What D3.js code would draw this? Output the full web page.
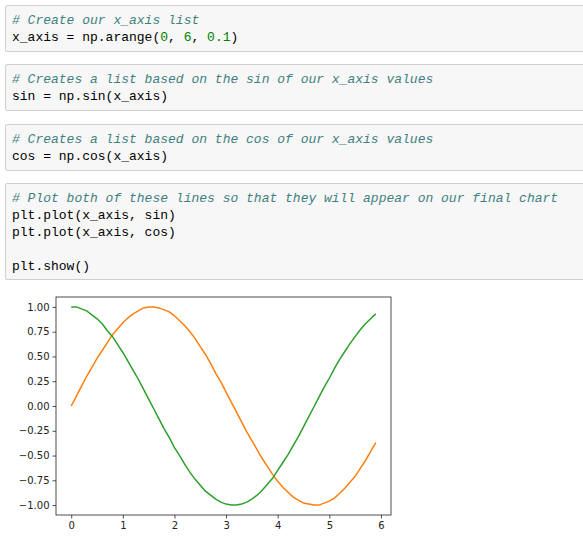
<!DOCTYPE html>
<html lang="en">
<head>
<meta charset="UTF-8">
<title>sin and cos</title>
<style>
  body { margin: 0; background: #fff; width: 583px; height: 539px; overflow: hidden; position: relative; }
  .cell {
    position: absolute; left: 5px; width: 600px;
    background: #f7f7f7; border: 1px solid #cfcfcf; border-radius: 2px;
    font-family: "Liberation Mono", "DejaVu Sans Mono", monospace; font-size: 13px;
    line-height: 17px; padding: 6px 0 5px 6px; box-sizing: border-box; white-space: pre; color: #000;
  }
  .c { color: #408080; font-style: italic; }
  .n { color: #008000; }
  svg { position: absolute; left: 0; top: 0; }
</style>
</head>
<body>
<div class="cell" style="top:5px;height:47px"><span class="c"># Create our x_axis list</span>
x_axis = np.arange(<span class="n">0</span>, <span class="n">6</span>, <span class="n">0.1</span>)</div>
<div class="cell" style="top:64px;height:47px"><span class="c"># Creates a list based on the sin of our x_axis values</span>
sin = np.sin(x_axis)</div>
<div class="cell" style="top:124px;height:47px"><span class="c"># Creates a list based on the cos of our x_axis values</span>
cos = np.cos(x_axis)</div>
<div class="cell" style="top:183px;height:97px"><span class="c"># Plot both of these lines so that they will appear on our final chart</span>
plt.plot(x_axis, sin)
plt.plot(x_axis, cos)

plt.show()</div>
<svg id="chart" width="583" height="539"></svg>
<script src="https://d3js.org/d3.v7.min.js"></script>
<script>
const xAxisVals = [0,0.1,0.2,0.3,0.4,0.5,0.6,0.7,0.8,0.9,1,1.1,1.2,1.3,1.4,1.5,1.6,1.7,1.8,1.9,
  2,2.1,2.2,2.3,2.4,2.5,2.6,2.7,2.8,2.9,3,3.1,3.2,3.3,3.4,3.5,3.6,3.7,3.8,3.9,
  4,4.1,4.2,4.3,4.4,4.5,4.6,4.7,4.8,4.9,5,5.1,5.2,5.3,5.4,5.5,5.6,5.7,5.8,5.9];
const sinVals = [0,.10,.20,.30,.39,.48,.56,.64,.72,.78,.84,.89,.93,.96,.99,1.00,1.00,.99,.97,.95,
  .91,.86,.81,.75,.68,.60,.52,.43,.33,.24,.14,.04,-.06,-.16,-.26,-.35,-.44,-.53,-.61,-.69,
  -.76,-.82,-.87,-.92,-.95,-.98,-.99,-1.00,-1.00,-.98,-.96,-.93,-.88,-.83,-.77,-.71,-.63,-.55,-.46,-.37];
const cosVals = [1.00,1.00,.98,.96,.92,.88,.83,.76,.70,.62,.54,.45,.36,.27,.17,.07,-.03,-.13,-.23,-.32,
  -.42,-.50,-.59,-.67,-.74,-.80,-.86,-.90,-.94,-.97,-.99,-1.00,-1.00,-.99,-.97,-.94,-.90,-.85,-.79,-.73,
  -.65,-.57,-.49,-.40,-.31,-.21,-.11,-.01,.09,.19,.28,.38,.47,.55,.63,.70,.77,.83,.88,.93];
const xTicks = [0,1,2,3,4,5,6];
const yTicks = [1,0.75,0.5,0.25,0,-0.25,-0.5,-0.75,-1];

const L = 56, R = 391, T = 297, B = 515;
const svg = d3.select('#chart');
const x = d3.scaleLinear().domain([-0.295, 6.195]).range([L, R]);
const y = d3.scaleLinear().domain([-1.1, 1.1]).range([B, T]);

const fmt = v => (v < 0 ? '\u2212' : '') + Math.abs(v).toFixed(2);
const font = 'DejaVu Sans, sans-serif';

const gx = svg.append('g').attr('transform', `translate(0,${B})`)
  .call(d3.axisBottom(x).tickValues(xTicks).tickSize(3.5).tickPadding(3).tickFormat(d3.format('d')));
const gy = svg.append('g').attr('transform', `translate(${L},0)`)
  .call(d3.axisLeft(y).tickValues(yTicks).tickSize(3.5).tickPadding(3).tickFormat(fmt));
[gx, gy].forEach(g => {
  g.select('.domain').remove();
  g.selectAll('text').attr('font-family', font).attr('font-size', 10).attr('fill', '#222');
  g.selectAll('line').attr('stroke', '#222').attr('stroke-width', 0.8);
});

const line = d3.line().x((d, i) => x(xAxisVals[i])).y(d => y(d));
svg.append('path').datum(sinVals).attr('d', line).attr('fill', 'none')
  .attr('stroke', '#ff7f0e').attr('stroke-width', 1.5);
svg.append('path').datum(cosVals).attr('d', line).attr('fill', 'none')
  .attr('stroke', '#2ca02c').attr('stroke-width', 1.5);

svg.append('rect').attr('x', L).attr('y', T).attr('width', R - L).attr('height', B - T)
  .attr('fill', 'none').attr('stroke', '#222').attr('stroke-width', 0.8);
</script>
</body>
</html>
